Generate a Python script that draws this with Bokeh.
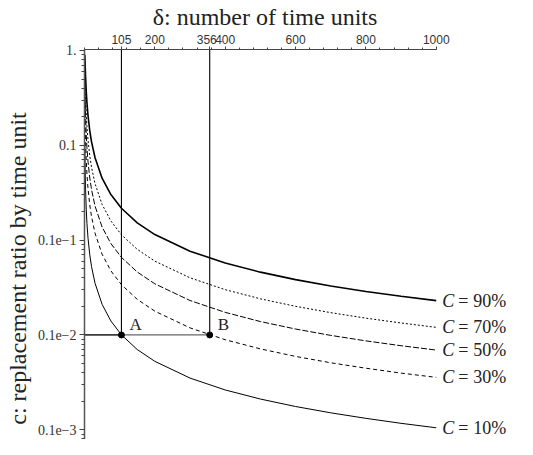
from bokeh.plotting import figure
from bokeh.models import Range1d, FixedTicker, ColumnDataSource
from bokeh.core.properties import value
from bokeh.embed import file_html
from bokeh.resources import INLINE

# ---- data ----
delta = [1, 2, 3, 5, 7, 10, 15, 20, 30, 50, 75, 105, 150, 200, 300, 400, 500, 600, 700, 800, 900, 1000]
c_90 = [0.9, 0.6838, 0.5358, 0.3690, 0.2803, 0.2057, 0.1423, 0.1087, 0.07388, 0.04501, 0.03023, 0.02169,
        0.01523, 0.01145, 0.007646, 0.00574, 0.004595, 0.00383, 0.003284, 0.002874, 0.002555, 0.0023]
c_70 = [0.7, 0.4523, 0.3306, 0.2140, 0.1580, 0.1134, 0.07713, 0.05842, 0.03934, 0.02379, 0.01593, 0.0114,
        0.007994, 0.006002, 0.004005, 0.003005, 0.002405, 0.002005, 0.001719, 0.001504, 0.001337, 0.001203]
c_50 = [0.5, 0.2929, 0.2063, 0.1294, 0.09428, 0.06697, 0.04516, 0.03406, 0.02284, 0.01377, 0.009199, 0.00658,
        0.00461, 0.00346, 0.002308, 0.001731, 0.001385, 0.001155, 0.00099, 0.000866, 0.00077, 0.000693]
c_30 = [0.3, 0.1633, 0.1121, 0.06885, 0.04968, 0.03504, 0.0235, 0.01768, 0.01182, 0.007108, 0.004744, 0.003391,
        0.002375, 0.001782, 0.001188, 0.000891, 0.000713, 0.000594, 0.000509, 0.000446, 0.000396, 0.000357]
c_10 = [0.1, 0.05132, 0.03451, 0.02085, 0.01494, 0.01048, 0.006999, 0.005254, 0.003506, 0.002105, 0.001404, 0.001003,
        0.000702, 0.000527, 0.000351, 0.000263, 0.000211, 0.000176, 0.000151, 0.000132, 0.000117, 0.000105]
series_pct = ["90%", "70%", "50%", "30%", "10%"]
series_values = [c_90, c_70, c_50, c_30, c_10]

point_names = ["A", "B"]
point_delta = [105, 356]
point_c = [0.001, 0.001]

x_tick_values = [105, 200, 356, 400, 600, 800, 1000]
x_tick_labels = ["105", "200", "356\u2002", "400", "600", "800", "1000"]
y_tick_values = [1, 0.1, 0.01, 0.001, 0.0001]
y_tick_labels = ["1.", "0.1", "0.1e\u22121", "0.1e\u22122", "0.1e\u22123"]

title_text = "\u03b4: number of time units"
ylabel_text = "c: replacement ratio by time unit"

# ---- styles ----
SERIF = "Liberation Serif"
SANS = "Liberation Sans"
styles = [
    dict(line_width=1.6, line_dash="solid"),
    dict(line_width=1.0, line_dash="2 2"),
    dict(line_width=1.0, line_dash="6 2"),
    dict(line_width=1.0, line_dash="4 3"),
    dict(line_width=1.0, line_dash="solid"),
]

X_END = 1231
Y_START = 7.9e-5
Y_END = 1.0238

p = figure(width=517, height=439, x_axis_location="above", y_axis_type="log",
           x_range=Range1d(0, X_END), y_range=Range1d(Y_START, Y_END),
           output_backend="svg", toolbar_location=None,
           min_border_left=84, min_border_right=0, min_border_top=36, min_border_bottom=0)
p.outline_line_color = None
p.xgrid.visible = False
p.ygrid.visible = False
p.background_fill_color = "white"
p.border_fill_color = "white"

# x axis (top)
xa = p.xaxis[0]
xa.ticker = FixedTicker(ticks=x_tick_values, minor_ticks=[v * 40 for v in range(0, 26)])
xa.major_label_overrides = {v: s for v, s in zip(x_tick_values, x_tick_labels)}
xa.bounds = (0, 1000)
xa.axis_line_color = "#444444"
xa.axis_line_width = 1.2
xa.major_tick_line_color = "#444444"
xa.minor_tick_line_color = "#444444"
xa.major_tick_out = 3
xa.major_tick_in = 0
xa.minor_tick_out = 2
xa.minor_tick_in = 0
xa.major_label_standoff = 0
xa.major_label_text_font = SANS
xa.major_label_text_font_size = "12px"
xa.major_label_text_color = "#333333"
xa.axis_label = title_text + "\u2002" * 6
xa.axis_label_text_font = SERIF
xa.axis_label_text_font_style = "normal"
xa.axis_label_text_font_size = "24px"
xa.axis_label_text_color = "#222222"
xa.axis_label_standoff = 0

# y axis (left)
ya = p.yaxis[0]
minor = [m * 10.0 ** e for e in range(-5, 1) for m in range(2, 10)]
ya.ticker = FixedTicker(ticks=y_tick_values, minor_ticks=minor)
ya.major_label_overrides = {v: s for v, s in zip(y_tick_values, y_tick_labels)}
ya.axis_line_color = "#555555"
ya.axis_line_width = 1.5
ya.major_tick_line_color = "#444444"
ya.minor_tick_line_color = "#444444"
ya.major_tick_out = 5
ya.major_tick_in = 0
ya.minor_tick_out = 3
ya.minor_tick_in = 0
ya.major_label_standoff = 3
ya.major_label_text_font = SERIF
ya.major_label_text_font_size = "14px"
ya.major_label_text_color = "#333333"
ya.axis_label = ylabel_text + "\u2002" * 4
ya.axis_label_text_font = SERIF
ya.axis_label_text_font_style = "normal"
ya.axis_label_text_font_size = "24px"
ya.axis_label_text_color = "#222222"
ya.axis_label_standoff = 4

# curves
for vals, st in zip(series_values, styles):
    p.line(delta, vals, line_color="black", **st)

# reference lines for A and B
p.line([0, point_delta[1]], [point_c[1], point_c[1]], line_color="#666666", line_width=1.3)
p.line([0, point_delta[0]], [point_c[0], point_c[0]], line_color="#222222", line_width=1.3)
for d, cval in zip(point_delta, point_c):
    p.line([d, d], [cval, Y_END], line_color="black", line_width=1.1)
p.scatter(point_delta, point_c, size=6, color="black")

src_pts = ColumnDataSource(dict(x=point_delta, y=point_c, t=point_names))
p.text(x="x", y="y", text="t", source=src_pts, x_offset=8, y_offset=-1,
       text_font=value(SERIF), text_font_size="17px", text_baseline="bottom",
       text_align="left", text_color="#222222")

# curve labels at delta = 1000
ends = [vals[-1] for vals in series_values]
src_lab = ColumnDataSource(dict(x=[delta[-1]] * len(ends), y=ends,
                                c=["C"] * len(ends), eq=["="] * len(ends), pct=series_pct))
common = dict(source=src_lab, text_font=value(SERIF), text_font_size="18px",
              text_baseline="middle", text_align="left", text_color="#222222")
p.text(x="x", y="y", text="c", x_offset=6, text_font_style="italic", **common)
p.text(x="x", y="y", text="eq", x_offset=22, **common)
p.text(x="x", y="y", text="pct", x_offset=37, **common)

open("out.html", "w").write(file_html(p, INLINE))
